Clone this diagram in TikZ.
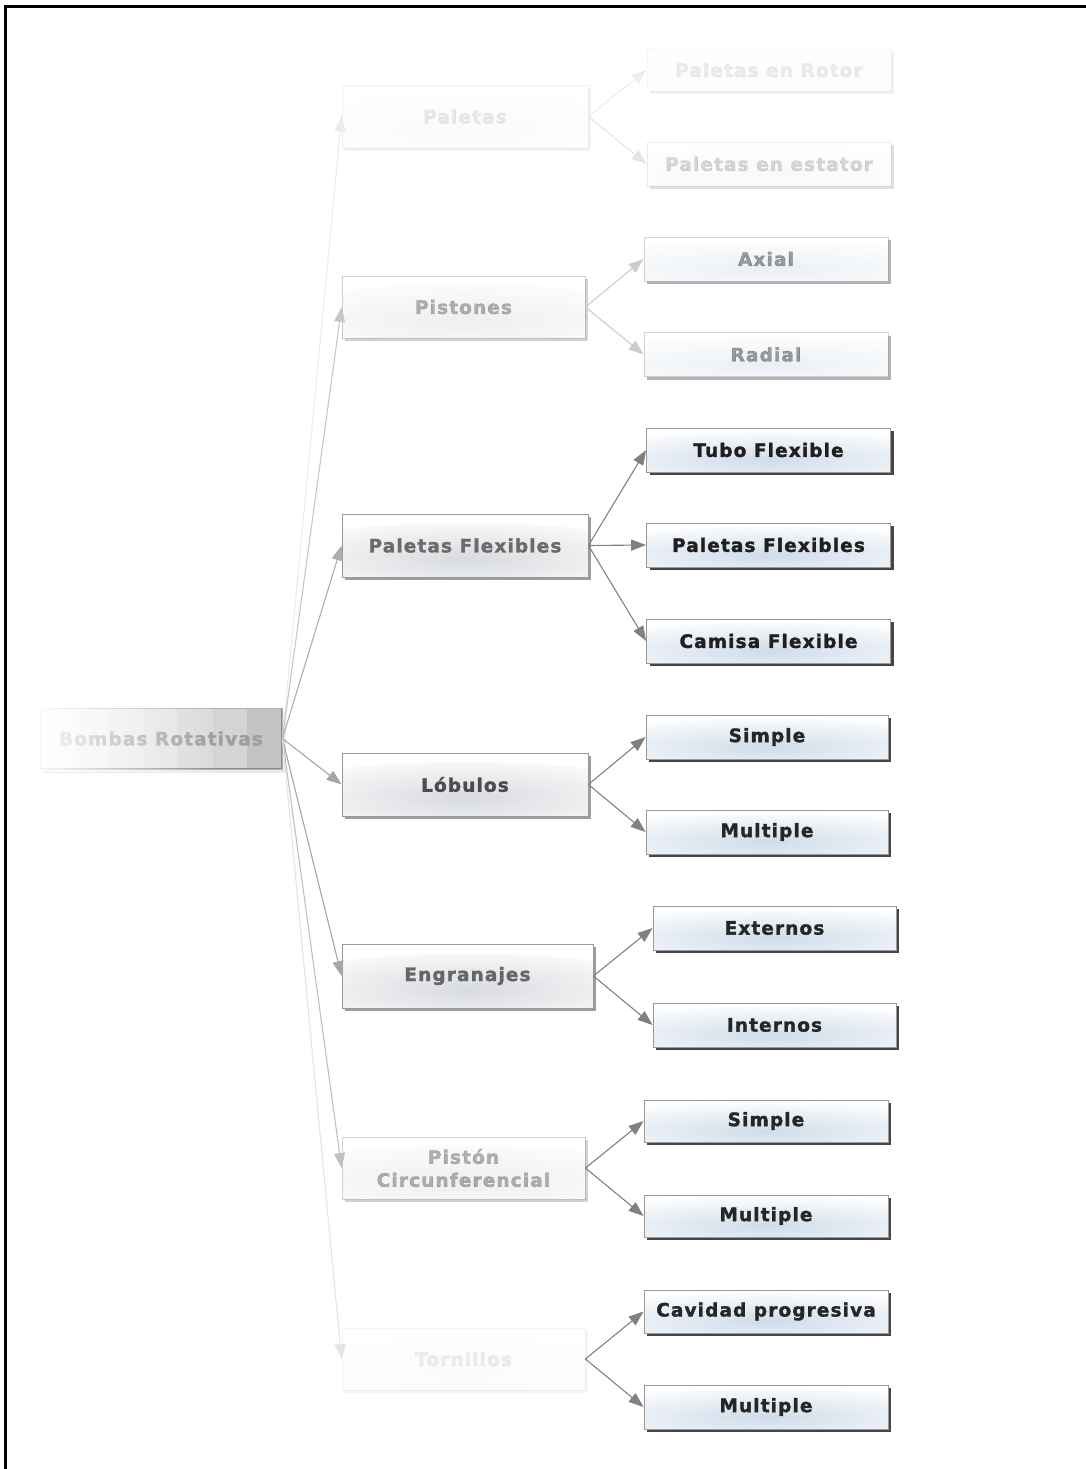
\documentclass[tikz,border=0pt]{standalone}
\usepackage{fontspec}
\setmainfont{DejaVu Sans}
\newfontfamily\boxfont[LetterSpace=6.0, BoldFeatures={FakeBold=1.6}]{DejaVu Sans}
\usetikzlibrary{arrows.meta,shadows,fadings}

\definecolor{glowblue}{HTML}{D0DCEA}
\definecolor{glowgray}{HTML}{D8DBDF}

\tikzfading[name=rootfade, left color=transparent!8, right color=transparent!100]

\tikzset{
  box/.style={rectangle, draw=black!40, line width=0.8pt, fill=white,
    font=\boxfont\bfseries\fontsize{18.5}{23}\selectfont, align=center, inner sep=0pt},
  mid/.style 2 args={box, minimum width=246pt, minimum height=63pt,
    draw opacity=#1, text opacity=#1, fill opacity=1, text=black!#2,
    drop shadow={shadow xshift=3pt, shadow yshift=-3pt, fill=black!70, opacity=0.55*#1},
    path picture={\shade[inner color=glowgray, outer color=white, opacity=#1]
      ([yshift=14pt]path picture bounding box.south) ellipse [x radius=230pt, y radius=40pt];}},
  leaf/.style 2 args={box, minimum width=244pt, minimum height=44pt,
    draw opacity=#1, text opacity=#1, fill opacity=1, text=black!#2,
    drop shadow={shadow xshift=3pt, shadow yshift=-3pt, fill=black!85, opacity=0.85*#1},
    path picture={\shade[inner color=glowblue, outer color=white, opacity=#1]
      ([yshift=10pt]path picture bounding box.south) ellipse [x radius=230pt, y radius=30pt];}},
  conn/.style={draw=black!#1, line width=1.1pt, -{Triangle[length=15pt,width=11pt]}},
  rootbox/.style={rectangle, draw=black!30, line width=0.8pt, minimum width=242pt,
    minimum height=61pt, inner sep=0pt, text=black!38,
    font=\boxfont\bfseries\fontsize{18.5}{23}\selectfont},
}

\begin{document}
\begin{tikzpicture}[x=1pt,y=-1pt]
\useasboundingbox (0,0) rectangle (1086,1469);

% frame lines along the top and left edges
\draw[line width=3pt] (5,1469) -- (5,7) -- (1086,7);

% root node: banded grey button
\fill[black!22, opacity=0.35] (44,712) rectangle (286,773);
\foreach \g [count=\i from 0] in {4,6.5,9,11.5,14,17,23}
  \fill[black!\g] (40+\i*34.57,708) rectangle (40+\i*34.57+34.57,769);
\node[rootbox] (root) at (161,738.5) {Bombas Rotativas};
\draw[black!45, line width=1.2pt] (281.5,709) -- (281.5,768.5) -- (41,768.5);
\fill[white, path fading=rootfade] (38,706) rectangle (215,772);

% second level
\node[mid={0.12}{65}] (pal) at (465,116.5) {Paletas};
\node[mid={0.45}{65}, minimum width=243pt, minimum height=62pt] (pis) at (463.5,307) {Pistones};
\node[mid={1}{58}] (pfl) at (465,545.5) {Paletas Flexibles};
\node[mid={1}{70}] (lob) at (465,784.5) {Lóbulos};
\node[mid={1}{60}, minimum width=251pt, minimum height=64pt] (eng) at (467.5,976) {Engranajes};
\node[mid={0.45}{65}, minimum width=243pt, minimum height=62pt] (pci) at (463.5,1168) {Pistón\\Circunferencial};
\node[mid={0.1}{65}, minimum width=243pt, minimum height=62pt] (tor) at (463.5,1359) {Tornillos};

% third level
\node[leaf={0.08}{88}, minimum height=42pt] (rot) at (769,70) {Paletas en Rotor};
\node[leaf={0.17}{88}] (est) at (769,164) {Paletas en estator};
\node[leaf={0.42}{88}] (axi) at (766,259) {Axial};
\node[leaf={0.42}{88}] (rad) at (766,354.5) {Radial};
\node[leaf={1}{88}] (tub) at (768.5,450) {Tubo Flexible};
\node[leaf={1}{88}] (pf2) at (768.5,545) {Paletas Flexibles};
\node[leaf={1}{88}] (cam) at (768.5,641) {Camisa Flexible};
\node[leaf={1}{85}, minimum width=242pt] (sim1) at (767,737) {Simple};
\node[leaf={1}{85}, minimum width=242pt] (mul1) at (767,832) {Multiple};
\node[leaf={1}{85}, minimum width=243pt] (ext) at (774.5,928) {Externos};
\node[leaf={1}{85}, minimum width=243pt] (int) at (774.5,1025) {Internos};
\node[leaf={1}{85}, minimum height=42pt] (sim2) at (766,1121) {Simple};
\node[leaf={1}{85}, minimum height=42pt] (mul2) at (766,1216) {Multiple};
\node[leaf={1}{85}, minimum height=43pt] (cav) at (766,1311.5) {Cavidad progresiva};
\node[leaf={1}{85}] (mul3) at (766,1407) {Multiple};

% connectors from the root
\draw[conn=8] (root.east) -- (pal.west);
\draw[conn=22] (root.east) -- (pis.west);
\draw[conn=32] (root.east) -- (pfl.west);
\draw[conn=35] (root.east) -- (lob.west);
\draw[conn=35] (root.east) -- (eng.west);
\draw[conn=25] (root.east) -- (pci.west);
\draw[conn=10] (root.east) -- (tor.west);

% connectors to the third level
\draw[conn=7] (pal.east) -- (rot.west);
\draw[conn=10] (pal.east) -- (est.west);
\draw[conn=20] (pis.east) -- (axi.west);
\draw[conn=20] (pis.east) -- (rad.west);
\draw[conn=50] (pfl.east) -- (tub.west);
\draw[conn=50] (pfl.east) -- (pf2.west);
\draw[conn=50] (pfl.east) -- (cam.west);
\draw[conn=50] (lob.east) -- (sim1.west);
\draw[conn=50] (lob.east) -- (mul1.west);
\draw[conn=50] (eng.east) -- (ext.west);
\draw[conn=50] (eng.east) -- (int.west);
\draw[conn=50] (pci.east) -- (sim2.west);
\draw[conn=50] (pci.east) -- (mul2.west);
\draw[conn=50] (tor.east) -- (cav.west);
\draw[conn=50] (tor.east) -- (mul3.west);
\end{tikzpicture}
\end{document}
